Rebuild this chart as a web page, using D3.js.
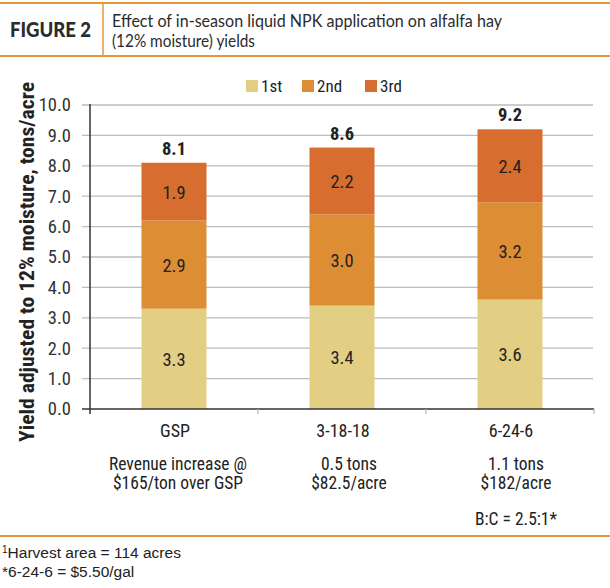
<!DOCTYPE html>
<html>
  <head>
    <meta charset="utf-8">
    <title>Figure 2</title>
    <script src="https://d3js.org/d3.v7.min.js"></script>
    <style>
      body { margin: 0; background: #fff; }
      .narrow { font-family: "Liberation Sans Narrow", "Roboto Condensed", Roboto, sans-serif; }
    </style>
  </head>
  <body>
    <svg width="610" height="588"></svg>
    <script>
      // ---- data ----
      const categories = ["GSP", "3-18-18", "6-24-6"];
      const series = ["1st", "2nd", "3rd"];
      const first = [3.3, 3.4, 3.6];
      const second = [2.9, 3.0, 3.2];
      const third = [1.9, 2.2, 2.4];
      const totals = [8.1, 8.6, 9.2];
      const yTicks = [0, 1, 2, 3, 4, 5, 6, 7, 8, 9, 10];
      const revenueLines = [
        ["Revenue increase @", "$165/ton over GSP"],
        ["0.5 tons", "$82.5/acre"],
        ["1.1 tons", "$182/acre"]
      ];
      const colors = ["#e3cf84", "#dd8d33", "#d76d2e"];
      const orange = "#e8963a";

      const svg = d3.select("svg");

      // ---- header ----
      svg.append("line").attr("x1", 0).attr("x2", 610).attr("y1", 3).attr("y2", 3)
        .attr("stroke", orange).attr("stroke-width", 2);
      svg.append("line").attr("x1", 0).attr("x2", 610).attr("y1", 56).attr("y2", 56)
        .attr("stroke", orange).attr("stroke-width", 2);
      svg.append("line").attr("x1", 103).attr("x2", 103).attr("y1", 3).attr("y2", 56)
        .attr("stroke", orange).attr("stroke-width", 1.5);
      svg.append("text").attr("x", 10).attr("y", 37)
        .attr("font-family", "Lato, 'Open Sans', sans-serif").attr("font-weight", 900)
        .attr("font-size", 20).attr("fill", "#2b2b2b")
        .attr("textLength", 81).attr("lengthAdjust", "spacingAndGlyphs")
        .text("FIGURE 2");
      const title = ["Effect of in-season liquid NPK application on alfalfa hay", "(12% moisture) yields"];
      const titleLen = [390, 143];
      svg.selectAll(".title").data(title).enter().append("text")
        .attr("x", 112).attr("y", (d, i) => 27 + i * 20)
        .attr("font-family", "Lato, 'Open Sans', sans-serif").attr("font-size", 17)
        .attr("fill", "#2b2b2b")
        .attr("textLength", (d, i) => titleLen[i]).attr("lengthAdjust", "spacingAndGlyphs")
        .text(d => d);

      // ---- scales ----
      const x = d3.scaleBand().domain(categories).range([90, 594])
        .paddingInner(0.613).paddingOuter(0.3065);
      const y = d3.scaleLinear().domain([0, 10]).range([409, 105]);

      const rows = categories.map((c, i) => ({ cat: c, "1st": first[i], "2nd": second[i], "3rd": third[i] }));
      const stacked = d3.stack().keys(series)(rows);

      // gridlines
      svg.append("g").selectAll("line").data(yTicks.slice(1)).enter().append("line")
        .attr("x1", 82).attr("x2", 593)
        .attr("y1", d => y(d)).attr("y2", d => y(d))
        .attr("stroke", "#bdbdbd").attr("stroke-width", 1.3);

      // y axis
      const yAxis = svg.append("g").attr("class", "narrow")
        .attr("transform", "translate(90,0)")
        .call(d3.axisLeft(y).tickValues(yTicks).tickFormat(d3.format(".1f")).tickSize(8).tickPadding(11));
      yAxis.select(".domain").remove();
      yAxis.selectAll(".tick line").remove();
      yAxis.selectAll("text").attr("font-size", 18.5).attr("fill", "#333");
      yAxis.attr("font-family", null);

      // bars
      const layer = svg.append("g").selectAll("g").data(stacked).enter().append("g")
        .attr("fill", (d, i) => colors[i]);
      layer.selectAll("rect").data(d => d).enter().append("rect")
        .attr("x", d => x(d.data.cat))
        .attr("width", x.bandwidth())
        .attr("y", d => y(d[1]))
        .attr("height", d => y(d[0]) - y(d[1]));

      // segment labels
      layer.each(function (s) {
        d3.select(this).selectAll("text").data(s).enter().append("text")
          .attr("class", "narrow")
          .attr("x", d => x(d.data.cat) + x.bandwidth() / 2)
          .attr("y", d => (y(d[0]) + y(d[1])) / 2 + 7)
          .attr("text-anchor", "middle").attr("font-size", 18.5).attr("fill", "#222")
          .text(d => d.data[s.key].toFixed(1));
      });

      // totals
      svg.append("g").selectAll("text").data(totals).enter().append("text")
        .attr("class", "narrow")
        .attr("x", (d, i) => x(categories[i]) + x.bandwidth() / 2)
        .attr("y", d => y(d) - 8)
        .attr("text-anchor", "middle").attr("font-size", 18.5).attr("font-weight", "bold")
        .attr("fill", "#222")
        .text(d => d.toFixed(1));

      // axis lines
      svg.append("line").attr("x1", 90).attr("x2", 90).attr("y1", 104).attr("y2", 414)
        .attr("stroke", "#333").attr("stroke-width", 1.5);
      svg.append("line").attr("x1", 82).attr("x2", 594).attr("y1", 409).attr("y2", 409)
        .attr("stroke", "#333").attr("stroke-width", 1.5);
      svg.append("g").selectAll("line").data([258, 426, 594]).enter().append("line")
        .attr("x1", d => d).attr("x2", d => d).attr("y1", 409).attr("y2", 414)
        .attr("stroke", "#bbb").attr("stroke-width", 1.3);

      // category labels
      svg.append("g").selectAll("text").data(categories).enter().append("text")
        .attr("class", "narrow")
        .attr("x", d => x(d) + x.bandwidth() / 2 + 1)
        .attr("y", 437)
        .attr("text-anchor", "middle").attr("font-size", 18).attr("fill", "#222")
        .text(d => d);

      // revenue text
      const revOffsets = [4, 7, 6];
      revenueLines.forEach((lines, i) => {
        svg.append("g").selectAll("text").data(lines).enter().append("text")
          .attr("class", "narrow")
          .attr("x", x(categories[i]) + x.bandwidth() / 2 + revOffsets[i])
          .attr("y", (d, j) => 470 + j * 19)
          .attr("text-anchor", "middle").attr("font-size", 17.5).attr("fill", "#222")
          .text(d => d);
      });
      svg.append("text").attr("class", "narrow")
        .attr("x", x("6-24-6") + x.bandwidth() / 2 + 6).attr("y", 525)
        .attr("text-anchor", "middle").attr("font-size", 17.5).attr("fill", "#222")
        .text("B:C = 2.5:1*");

      // y axis title
      svg.append("text").attr("class", "narrow")
        .attr("transform", "translate(34,262) rotate(-90)")
        .attr("text-anchor", "middle").attr("font-size", 20).attr("font-weight", "bold")
        .attr("fill", "#222")
        .attr("textLength", 360).attr("lengthAdjust", "spacingAndGlyphs")
        .text("Yield adjusted to 12% moisture, tons/acre");

      // legend
      const legX = [246, 302, 365];
      const leg = svg.append("g").selectAll("g").data(series).enter().append("g")
        .attr("transform", (d, i) => `translate(${legX[i]},80)`);
      leg.append("rect").attr("width", 12).attr("height", 12).attr("fill", (d, i) => colors[i]);
      leg.append("text").attr("class", "narrow").attr("x", 15).attr("y", 12)
        .attr("font-size", 17).attr("fill", "#222").text(d => d);

      // footer
      svg.append("line").attr("x1", 0).attr("x2", 610).attr("y1", 536).attr("y2", 536)
        .attr("stroke", orange).attr("stroke-width", 2);
      const foot = svg.append("g").attr("font-family", "'Liberation Sans', Arial, sans-serif")
        .attr("font-size", 15.5).attr("fill", "#222");
      const f1 = foot.append("text").attr("x", 2).attr("y", 558);
      f1.append("tspan").attr("font-size", 10).attr("dy", -5).text("1");
      f1.append("tspan").attr("dy", 5).text("Harvest area = 114 acres");
      foot.append("text").attr("x", 2).attr("y", 577).text("*6-24-6 = $5.50/gal");
    </script>
  </body>
</html>
